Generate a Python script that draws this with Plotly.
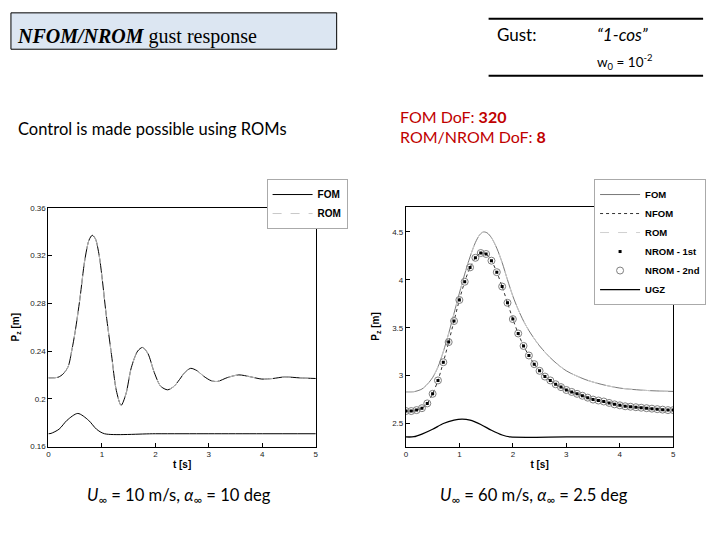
import plotly.graph_objects as go

# ---------------- data ----------------
# Left chart: U=10 m/s, alpha=10 deg
left_t = [0, 0.18, 0.28, 0.37, 0.44, 0.5, 0.59, 0.68, 0.76, 0.82, 0.88, 0.95, 1.0, 1.08, 1.18, 1.27,
          1.36, 1.45, 1.55, 1.67, 1.76, 1.86, 1.98, 2.1, 2.23, 2.35, 2.45, 2.55, 2.66, 2.78, 2.9,
          3.04, 3.16, 3.35, 3.56, 3.77, 3.99, 4.2, 4.42, 4.7, 5.0]
left_fom = [0.2175, 0.218, 0.221, 0.227, 0.241, 0.256, 0.284, 0.316, 0.333, 0.337, 0.334, 0.32,
            0.303, 0.271, 0.237, 0.207, 0.1945, 0.204, 0.226, 0.240, 0.243, 0.238, 0.222, 0.2105,
            0.2075, 0.2105, 0.216, 0.222, 0.2255, 0.2235, 0.219, 0.2152, 0.2145, 0.2178, 0.2200,
            0.2185, 0.2165, 0.217, 0.2183, 0.2175, 0.217]
left_rom = [0.2175, 0.218, 0.221, 0.227, 0.241, 0.256, 0.284, 0.316, 0.333, 0.337, 0.334, 0.32,
            0.303, 0.271, 0.237, 0.207, 0.1945, 0.204, 0.226, 0.240, 0.243, 0.238, 0.222, 0.2105,
            0.2075, 0.2105, 0.216, 0.222, 0.2255, 0.2235, 0.219, 0.2152, 0.2145, 0.2178, 0.2200,
            0.2185, 0.2165, 0.217, 0.2183, 0.2175, 0.217]
left_gust_t = [0, 0.05, 0.2, 0.35, 0.55, 0.75, 0.9, 1.05, 2.0, 3.0, 4.0, 5.0]
left_gust = [0.1707, 0.171, 0.1745, 0.182, 0.1877, 0.182, 0.1745, 0.1707, 0.1707, 0.1707, 0.1707, 0.1707]

# Right chart: U=60 m/s, alpha=2.5 deg
right_t = [0, 0.15, 0.3, 0.4, 0.5, 0.6, 0.7, 0.8, 0.9, 1.0, 1.1, 1.2, 1.3, 1.38, 1.45, 1.52, 1.6,
           1.7, 1.8, 1.9, 2.0, 2.1, 2.2, 2.3, 2.5, 2.75, 3.0, 3.35, 3.65, 4.0, 4.5, 5.0]
right_fom = [2.83, 2.832, 2.86, 2.91, 2.98, 3.09, 3.25, 3.44, 3.65, 3.86, 4.06, 4.24, 4.39, 4.47,
             4.5, 4.49, 4.44, 4.33, 4.18, 4.0, 3.83, 3.69, 3.57, 3.47, 3.31, 3.16, 3.05, 2.96,
             2.91, 2.87, 2.845, 2.835]
right_rom = [2.83, 2.832, 2.86, 2.91, 2.98, 3.09, 3.25, 3.44, 3.65, 3.86, 4.06, 4.24, 4.39, 4.47,
             4.5, 4.49, 4.44, 4.33, 4.18, 4.0, 3.83, 3.69, 3.57, 3.47, 3.31, 3.16, 3.05, 2.96,
             2.91, 2.87, 2.845, 2.835]
sample_t = [0.0, 0.1, 0.2, 0.3, 0.4, 0.5, 0.6, 0.7, 0.8, 0.9, 1.0, 1.1, 1.2, 1.3, 1.4, 1.5, 1.6,
            1.7, 1.8, 1.9, 2.0, 2.1, 2.2, 2.3, 2.4, 2.5, 2.6, 2.7, 2.8, 2.9, 3.0, 3.1, 3.2, 3.3,
            3.4, 3.5, 3.6, 3.7, 3.8, 3.9, 4.0, 4.1, 4.2, 4.3, 4.4, 4.5, 4.6, 4.7, 4.8, 4.9, 5.0]
right_nfom = [2.63, 2.63, 2.64, 2.66, 2.71, 2.81, 2.95, 3.14, 3.35, 3.57, 3.79, 3.98, 4.13, 4.23,
              4.28, 4.27, 4.20, 4.08, 3.93, 3.76, 3.59, 3.44, 3.31, 3.21, 3.12, 3.05, 2.99, 2.95,
              2.91, 2.88, 2.85, 2.83, 2.81, 2.79, 2.77, 2.75, 2.74, 2.73, 2.715, 2.70, 2.69, 2.68,
              2.675, 2.67, 2.665, 2.66, 2.655, 2.65, 2.645, 2.64, 2.64]
right_nrom1 = [2.63, 2.63, 2.64, 2.66, 2.71, 2.81, 2.95, 3.14, 3.35, 3.57, 3.79, 3.98, 4.13, 4.23,
               4.28, 4.27, 4.20, 4.08, 3.93, 3.76, 3.59, 3.44, 3.31, 3.21, 3.12, 3.05, 2.99, 2.95,
               2.91, 2.88, 2.85, 2.83, 2.81, 2.79, 2.77, 2.75, 2.74, 2.73, 2.715, 2.70, 2.69, 2.68,
               2.675, 2.67, 2.665, 2.66, 2.655, 2.65, 2.645, 2.64, 2.64]
right_nrom2 = [2.63, 2.63, 2.64, 2.66, 2.71, 2.81, 2.95, 3.14, 3.35, 3.57, 3.79, 3.98, 4.13, 4.23,
               4.28, 4.27, 4.20, 4.08, 3.93, 3.76, 3.59, 3.44, 3.31, 3.21, 3.12, 3.05, 2.99, 2.95,
               2.91, 2.88, 2.85, 2.83, 2.81, 2.79, 2.77, 2.75, 2.74, 2.73, 2.715, 2.70, 2.69, 2.68,
               2.675, 2.67, 2.665, 2.66, 2.655, 2.65, 2.645, 2.64, 2.64]
ugz_t = [0, 0.15, 0.3, 0.5, 0.7, 0.9, 1.05, 1.2, 1.4, 1.6, 1.8, 1.95, 3.0, 4.0, 5.0]
ugz = [2.36, 2.362, 2.39, 2.44, 2.50, 2.535, 2.545, 2.535, 2.49, 2.43, 2.38, 2.36, 2.36, 2.36, 2.36]

left_yticks = [0.16, 0.2, 0.24, 0.28, 0.32, 0.36]
left_yticktext = ["0.16", "0.2", "0.24", "0.28", "0.32", "0.36"]
right_yticks = [2.5, 3, 3.5, 4, 4.5]
right_yticktext = ["2.5", "3", "3.5", "4", "4.5"]
x_ticks = [0, 1, 2, 3, 4, 5]

W, H = 720, 540
def px(x):
    return x / W
def py(y):
    return 1 - y / H

fig = go.Figure()

spl = dict(shape="spline", smoothing=0.8)

# left chart traces
fig.add_trace(go.Scatter(x=left_gust_t, y=left_gust, mode="lines", line=dict(color="black", width=1, **spl),
                         showlegend=False, xaxis="x", yaxis="y", name="Gust"))
fig.add_trace(go.Scatter(x=left_t, y=left_fom, mode="lines", name="FOM", line=dict(color="black", width=1, **spl),
                         xaxis="x", yaxis="y", legend="legend"))
fig.add_trace(go.Scatter(x=left_t, y=left_rom, mode="lines", name="ROM", line=dict(color="#c8c8c8", width=1, dash="dash", **spl),
                         xaxis="x", yaxis="y", legend="legend"))

# right chart traces
fig.add_trace(go.Scatter(x=ugz_t, y=ugz, mode="lines", name="UGZ", line=dict(color="black", width=1.3, **spl),
                         xaxis="x2", yaxis="y2", legend="legend2", legendrank=6))
fig.add_trace(go.Scatter(x=right_t, y=right_fom, mode="lines", name="FOM", line=dict(color="#555555", width=0.8, **spl),
                         xaxis="x2", yaxis="y2", legend="legend2", legendrank=1))
fig.add_trace(go.Scatter(x=right_t, y=right_rom, mode="lines", name="ROM", line=dict(color="#d0d0d0", width=1, dash="dash", **spl),
                         xaxis="x2", yaxis="y2", legend="legend2", legendrank=3))
fig.add_trace(go.Scatter(x=sample_t, y=right_nfom, mode="lines", name="NFOM", line=dict(color="#333333", width=1, dash="dot", **spl),
                         xaxis="x2", yaxis="y2", legend="legend2", legendrank=2))
fig.add_trace(go.Scatter(x=sample_t, y=right_nrom2, mode="markers", name="NROM - 2nd",
                         marker=dict(symbol="circle-open", size=7, color="#808080", line=dict(width=1)),
                         xaxis="x2", yaxis="y2", legend="legend2", legendrank=5))
fig.add_trace(go.Scatter(x=sample_t, y=right_nrom1, mode="markers", name="NROM - 1st",
                         marker=dict(symbol="square", size=3, color="black"),
                         xaxis="x2", yaxis="y2", legend="legend2", legendrank=4))

axis_common = dict(showline=True, linecolor="black", linewidth=1, mirror=True, showgrid=False,
                   zeroline=False, ticks="inside", ticklen=4, tickcolor="black",
                   tickfont=dict(family="Liberation Sans", size=8, color="#222222"))
title_font = dict(family="Liberation Sans", size=10, color="black", weight="bold")

fig.update_layout(
    width=W, height=H, margin=dict(l=0, r=0, t=0, b=0),
    paper_bgcolor="white", plot_bgcolor="white",
    xaxis=dict(domain=[px(46.7), px(316)], range=[0, 5], tickvals=x_ticks, anchor="y",
               title=dict(text="t [s]", font=title_font, standoff=2), **axis_common),
    yaxis=dict(domain=[py(450), py(207.3)], range=[0.16, 0.36], tickvals=left_yticks, ticktext=left_yticktext,
               anchor="x", title=dict(text="P<sub>z</sub> [m]", font=title_font, standoff=8), **axis_common),
    xaxis2=dict(domain=[px(406.7), px(676)], range=[0, 5], tickvals=x_ticks, anchor="y2",
                title=dict(text="t [s]", font=title_font, standoff=2), **axis_common),
    yaxis2=dict(domain=[py(450), py(206)], range=[2.26, 4.765], tickvals=right_yticks, ticktext=right_yticktext,
                anchor="x2", title=dict(text="P<sub>z</sub> [m]", font=title_font, standoff=10), **axis_common),
    legend=dict(x=px(348), xanchor="right", y=py(178), yanchor="top", bgcolor="white",
                bordercolor="#aaaaaa", borderwidth=1, itemwidth=40, tracegroupgap=0,
                font=dict(family="Liberation Sans", size=10, color="black", weight="bold")),
    legend2=dict(x=px(709), xanchor="right", y=py(178), yanchor="top", bgcolor="white",
                 bordercolor="#aaaaaa", borderwidth=1, itemwidth=40, tracegroupgap=0,
                 font=dict(family="Liberation Sans", size=9.5, color="black", weight="bold")),
)

shapes = [
    dict(type="rect", xref="paper", yref="paper", x0=px(9), x1=px(337), y0=py(46), y1=py(9),
         fillcolor="#dce6f2", line=dict(color="black", width=1), layer="below"),
    dict(type="line", xref="paper", yref="paper", x0=px(490), x1=px(706), y0=py(15), y1=py(15),
         line=dict(color="black", width=2)),
    dict(type="line", xref="paper", yref="paper", x0=px(490), x1=px(706), y0=py(73), y1=py(73),
         line=dict(color="black", width=2)),
]
fig.update_layout(shapes=shapes)

slide_font = "Lato"
ann = [
    dict(x=px(13), y=py(33), text="<b><i>NFOM/NROM</i></b> gust response", xanchor="left", yanchor="middle",
         font=dict(family="Liberation Serif", size=20, color="black")),
    dict(x=px(496), y=py(31), text="Gust:", xanchor="left", yanchor="middle",
         font=dict(family=slide_font, size=17, color="black")),
    dict(x=px(597), y=py(31), text="<i>“1-cos”</i>", xanchor="left", yanchor="middle",
         font=dict(family=slide_font, size=17, color="black")),
    dict(x=px(597), y=py(59), text="w<sub>0</sub> = 10<sup>-2</sup>", xanchor="left", yanchor="middle",
         font=dict(family=slide_font, size=13.5, color="black")),
    dict(x=px(14), y=py(127), text="Control is made possible using ROMs", xanchor="left", yanchor="middle",
         font=dict(family=slide_font, size=16.5, color="black")),
    dict(x=px(399), y=py(114), text="FOM DoF: <b>320</b>", xanchor="left", yanchor="middle",
         font=dict(family=slide_font, size=16, color="#c00000")),
    dict(x=px(399), y=py(135), text="ROM/NROM DoF: <b>8</b>", xanchor="left", yanchor="middle",
         font=dict(family=slide_font, size=16, color="#c00000")),
    dict(x=px(178), y=py(500), text="<i>U</i><sub>∞</sub> = 10 m/s, <i>α</i><sub>∞</sub> = 10 deg", xanchor="center", yanchor="middle",
         font=dict(family=slide_font, size=16.6, color="black")),
    dict(x=px(536), y=py(500), text="<i>U</i><sub>∞</sub> = 60 m/s, <i>α</i><sub>∞</sub> = 2.5 deg", xanchor="center", yanchor="middle",
         font=dict(family=slide_font, size=16.6, color="black")),
]
for a in ann:
    a.update(xref="paper", yref="paper", showarrow=False)
fig.update_layout(annotations=ann)

fig.write_html("out.html")
